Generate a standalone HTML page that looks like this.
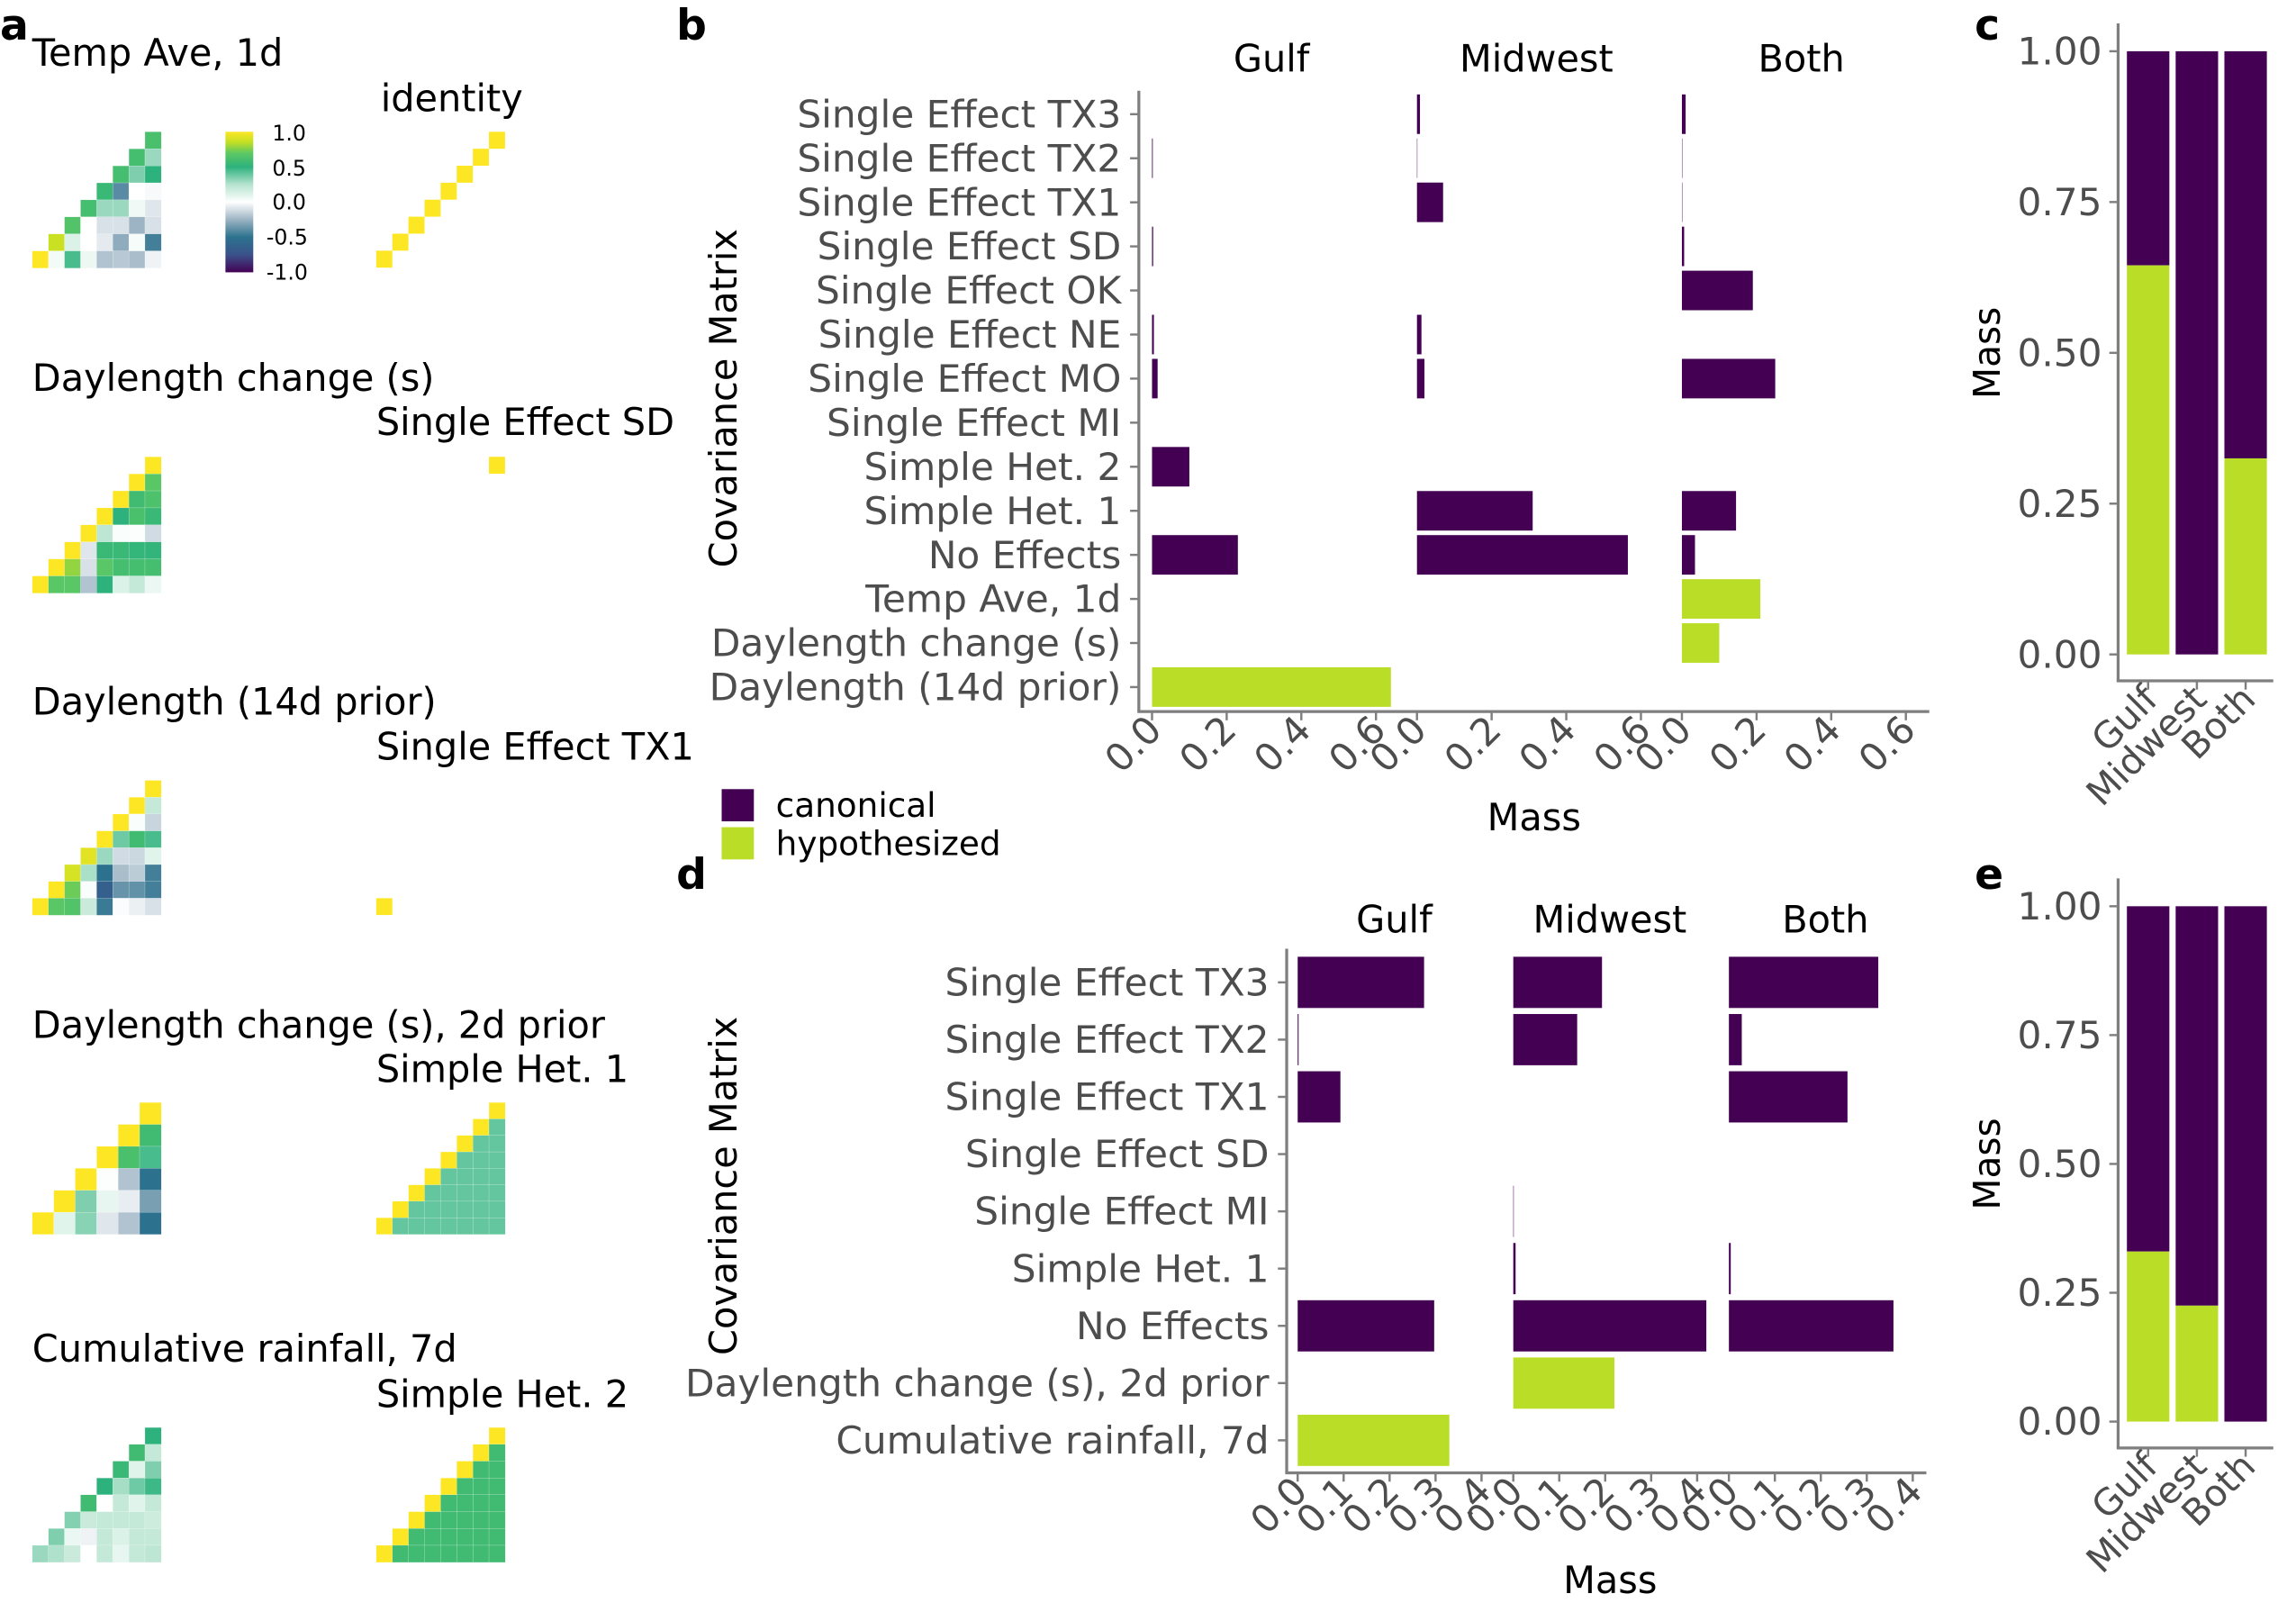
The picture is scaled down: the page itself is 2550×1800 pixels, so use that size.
<!DOCTYPE html>
<html><head><meta charset="utf-8"><style>
html,body{margin:0;padding:0;background:#fff;}
svg{display:block;font-family:"DejaVu Sans","Liberation Sans",sans-serif;}
</style></head><body>
<svg id="fig" xmlns="http://www.w3.org/2000/svg" width="2550" height="1800" viewBox="0 0 1568.5 1107.2">
<rect x="0" y="0" width="1568.5" height="1107.2" fill="#fff"/>
<g font-weight="bold" font-size="29" fill="#000">
<text x="0" y="27">a</text>
<text x="462" y="27">b</text>
<text x="1349" y="27">c</text>
<text x="462" y="607">d</text>
<text x="1349" y="607">e</text>
</g>
<g font-size="25.5" fill="#000">
<text x="22" y="45">Temp Ave, 1d</text>
<text x="260" y="76">identity</text>
<text x="22" y="267">Daylength change (s)</text>
<text x="257" y="297">Single Effect SD</text>
<text x="22" y="488">Daylength (14d prior)</text>
<text x="257" y="519">Single Effect TX1</text>
<text x="22" y="709">Daylength change (s), 2d prior</text>
<text x="257" y="739">Simple Het. 1</text>
<text x="22" y="930">Cumulative rainfall, 7d</text>
<text x="257" y="961">Simple Het. 2</text>
</g>
<defs>
<linearGradient id="cbar" x1="0" y1="1" x2="0" y2="0">
<stop offset="0" stop-color="#440154"/><stop offset="0.125" stop-color="#3b528b"/>
<stop offset="0.25" stop-color="#2c728e"/><stop offset="0.375" stop-color="#9db4c4"/>
<stop offset="0.5" stop-color="#ffffff"/><stop offset="0.625" stop-color="#b5e3cf"/>
<stop offset="0.75" stop-color="#2db27d"/><stop offset="0.85" stop-color="#5ec962"/>
<stop offset="0.925" stop-color="#c2df23"/><stop offset="1" stop-color="#fde725"/>
</linearGradient>
</defs>
<rect x="154" y="90" width="19" height="96" fill="url(#cbar)"/>
<g font-size="14.5" fill="#000">
<text x="186" y="96">1.0</text><text x="186" y="120">0.5</text><text x="186" y="143">0.0</text>
<text x="182" y="167">-0.5</text><text x="182" y="191">-1.0</text>
</g>
<g id="heat"></g>
<g id="pb"></g><g id="pd"></g><g id="pc"></g><g id="pe"></g>
<g>
<rect x="493" y="539" width="22" height="22" fill="#440154"/>
<rect x="493" y="565" width="22" height="22" fill="#bade28"/>
<text x="530" y="558" font-size="23">canonical</text>
<text x="530" y="584" font-size="23">hypothesized</text>
</g>
</svg>
<script>
// ---------- data: panel b ----------
const catsB = ["Single Effect TX3","Single Effect TX2","Single Effect TX1","Single Effect SD","Single Effect OK","Single Effect NE","Single Effect MO","Single Effect MI","Simple Het. 2","Simple Het. 1","No Effects","Temp Ave, 1d","Daylength change (s)","Daylength (14d prior)"];
const typeB = ["c","c","c","c","c","c","c","c","c","c","c","h","h","h"];
const gulfB = [0,0.002,0,0.003,0,0.005,0.015,0,0.10,0,0.23,0,0,0.64];
const midwestB = [0.008,0.001,0.07,0,0,0.012,0.02,0,0,0.31,0.565,0,0,0];
const bothB = [0.01,0.001,0.001,0.006,0.19,0,0.25,0,0,0.145,0.035,0.21,0.10,0];
const ticksB = [0,0.2,0.4,0.6];
const tickLabelsB = ["0.0","0.2","0.4","0.6"];
// ---------- data: panel d ----------
const catsD = ["Single Effect TX3","Single Effect TX2","Single Effect TX1","Single Effect SD","Single Effect MI","Simple Het. 1","No Effects","Daylength change (s), 2d prior","Cumulative rainfall, 7d"];
const typeD = ["c","c","c","c","c","c","c","h","h"];
const gulfD = [0.275,0.002,0.093,0,0,0,0.297,0,0.33];
const midwestD = [0.193,0.139,0,0,0.001,0.005,0.42,0.22,0];
const bothD = [0.325,0.028,0.258,0,0,0.004,0.358,0,0];
const ticksD = [0,0.1,0.2,0.3,0.4];
const tickLabelsD = ["0.0","0.1","0.2","0.3","0.4"];
const facets = ["Gulf","Midwest","Both"];
// ---------- data: panels c / e ----------
const hypC = [0.645,0,0.325];
const hypE = [0.33,0.225,0];
const ticksM = [0,0.25,0.5,0.75,1];
const tickLabelsM = ["0.00","0.25","0.50","0.75","1.00"];
// ---------- data: heatmaps (lower-right triangles, row-major, top row first) ----------
const hmTemp = [[0.62],[0.6,0.3],[0.6,0.35,0.5],[0.55,-0.4,0,-0.02],[0.6,0.3,0.3,0.05,-0.08],[0.65,0,-0.1,-0.1,-0.25,-0.1],[0.87,0.12,0,-0.07,-0.28,0.03,-0.45],[1,0.04,0.45,0.06,-0.2,-0.18,-0.22,-0.04]];
const hmDayChg = [[1],[1,0.68],[1,0.58,0.63],[1,0.5,0.62,0.55],[1,0.22,0.02,0.01,-0.12],[1,-0.08,0.55,0.55,0.53,0.52],[1,0.78,-0.1,0.68,0.6,0.6,0.6],[1,0.68,0.68,-0.2,0.5,0.12,0.2,0.07]];
const hmDay14 = [[1],[1,0.2],[1,0.02,-0.14],[1,0.38,0.58,0.45],[0.93,0.3,-0.12,-0.13,0.1],[0.9,0.27,-0.5,-0.22,-0.17,-0.45],[1,0.72,0.02,-0.65,-0.37,-0.38,-0.45],[1,0.68,0.65,0.18,-0.47,-0.01,-0.05,-0.1]];
const hmDayChg2 = [[1],[1,0.58],[1,0.62,0.45],[1,0.01,-0.2,-0.5],[1,0.35,0.08,-0.06,-0.33],[1,0.1,0.33,-0.08,-0.2,-0.5]];
const hmRain = [[0.5],[0.58,0.2],[0.55,0.1,0.35],[0.5,0.28,0.38,0.47],[0.58,0,0.2,0.1,0.2],[0.34,0.18,0.2,0.2,0.2,0.17],[0.35,0.07,-0.04,0.2,0.12,0.2,0.2],[0.3,0.26,0.18,0,0.2,0.08,0.2,0.22]];
const hetOne = 0.4;
const hetTwo = 0.58;

const NS="http://www.w3.org/2000/svg";
function mk(parent, tag, attrs, txt){const e=document.createElementNS(NS,tag);for(const k in attrs)e.setAttribute(k,attrs[k]);if(txt!==undefined)e.textContent=txt;parent.appendChild(e);return e;}
const PURPLE="#440154", LIME="#bade28", GREY="#7f7f7f", TXT="#4d4d4d";

const cStops=[[-1,[68,1,84]],[-0.75,[59,82,139]],[-0.5,[44,114,142]],[-0.25,[157,180,196]],[0,[255,255,255]],[0.25,[181,227,207]],[0.5,[45,178,125]],[0.7,[94,201,98]],[0.85,[194,223,35]],[1,[253,231,37]]];
function col(v){v=Math.max(-1,Math.min(1,v));for(let i=1;i<cStops.length;i++){if(v<=cStops[i][0]){const a=cStops[i-1],b=cStops[i];const t=(v-a[0])/(b[0]-a[0]);const c=a[1].map((x,j)=>Math.round(x+(b[1][j]-x)*t));return "rgb("+c.join(",")+")";}}return "rgb(253,231,37)";}

const heat=document.getElementById('heat');
function drawTri(rows, x0, y0, w, h, name){
  const g=mk(heat,'g',{});
  
  
  const n=rows.length, cw=w/n, ch=h/n;
  rows.forEach((r,i)=>{r.forEach((v,k)=>{const c=n-1-i+k;
    const e=mk(g,'rect',{x:x0+c*cw,y:y0+i*ch,width:cw+0.2,height:ch+0.2,fill:col(v),stroke:"#fff","stroke-width":0.15});
    
    
  });});
}
function structRows(n, off){const r=[];for(let i=0;i<n;i++){const row=[];for(let k=0;k<=i;k++){row.push(k===0?1:off);}r.push(row);}return r;}
drawTri(hmTemp,22,90,88,93,'heatmap-temp-ave');
drawTri(hmDayChg,22,312,88,93,'heatmap-daylength-change');
drawTri(hmDay14,22,533,88,92,'heatmap-daylength-14d');
drawTri(hmDayChg2,22,753,88,90,'heatmap-daylength-change-2d');
drawTri(hmRain,22,975,88,92,'heatmap-cumulative-rainfall');
drawTri(structRows(8,hetOne),257,753,88,90,'heatmap-simple-het-1');
drawTri(structRows(8,hetTwo),257,975,88,92,'heatmap-simple-het-2');
(function(){
  const g=mk(heat,'g',{});
  
  
  const cw=11, ch=11.6;
  for(let i=0;i<8;i++){const e=mk(g,'rect',{x:257+(7-i)*cw,y:90+i*ch,width:cw,height:ch,fill:"#fde725"});
    
    }
  const s=mk(heat,'rect',{x:257+7*cw,y:312,width:cw,height:ch,fill:"#fde725"});
  
  
  const t=mk(heat,'rect',{x:257,y:533+7*11.5,width:cw,height:11.5,fill:"#fde725"});
  
  
})();

function facetChart(gid, cats, types, series, ticks, tickLabels, L){
  const g=document.getElementById(gid);
  
  
  const yc=i=>L.y0+i*L.step;
  const xs=(f,v)=>L.fx0+f*L.fgap+v*L.scale;
  series.forEach((vals,f)=>{vals.forEach((v,i)=>{if(v<=0)return;
    const b=mk(g,'rect',{x:xs(f,0),y:yc(i)-L.bh/2,width:xs(f,v)-xs(f,0),height:L.bh,fill:types[i]==="h"?LIME:PURPLE});
    
    
  });});
  const ya=mk(g,'line',{x1:L.ax,y1:L.top,x2:L.ax,y2:L.bot,stroke:GREY,"stroke-width":2});
  
  
  const xa=mk(g,'line',{x1:L.ax-1,y1:L.bot,x2:L.right,y2:L.bot,stroke:GREY,"stroke-width":2});
  
  
  cats.forEach((c,i)=>{
    mk(g,'line',{x1:L.ax-6,y1:yc(i),x2:L.ax,y2:yc(i),stroke:GREY,"stroke-width":1.5});
    const t=mk(g,'text',{x:L.ax-12,y:yc(i)+9,"text-anchor":"end","font-size":L.fs,fill:TXT},c);
    
    
  });
  facets.forEach((fn,f)=>{
    const s=mk(g,'text',{x:xs(f,L.stripMid),y:L.stripY,"text-anchor":"middle","font-size":L.fs-0.5,fill:"#000"},fn);
    
    
    ticks.forEach((tv,k)=>{const x=xs(f,tv);
      mk(g,'line',{x1:x,y1:L.bot,x2:x,y2:L.bot+6,stroke:GREY,"stroke-width":1.5});
      const t=mk(g,'text',{x:0,y:0,"text-anchor":"end","font-size":L.fs,fill:TXT,transform:"translate("+(x+8)+","+(L.bot+14)+") rotate(-45)"},tickLabels[k]);
      
      
    });
  });
  const xt=mk(g,'text',{x:L.xtX,y:L.xtY,"text-anchor":"middle","font-size":L.fs-0.5,fill:"#000"},"Mass");
  
  
  const yt=mk(g,'text',{x:0,y:0,"text-anchor":"middle","font-size":L.fs-0.5,fill:"#000",transform:"translate(503,"+L.ytY+") rotate(-90)"},"Covariance Matrix");
  
  
}
facetChart('pb',catsB,typeB,[gulfB,midwestB,bothB],ticksB,tickLabelsB,
  {name:'panel-b-chart',y0:78,step:30.1,bh:27,fx0:787,fgap:181,scale:255,ax:778,top:62,bot:486,right:1318,fs:26,stripMid:0.32,stripY:49,xtX:1048,xtY:567,ytY:272});
facetChart('pd',catsD,typeD,[gulfD,midwestD,bothD],ticksD,tickLabelsD,
  {name:'panel-d-chart',y0:671,step:39.1,bh:35,fx0:886.5,fgap:147.3,scale:314,ax:879,top:648,bot:1006,right:1316,fs:26,stripMid:0.21,stripY:637,xtX:1100,xtY:1088,ytY:810});

function massChart(gid, hyp, L){
  const g=document.getElementById(gid);
  
  
  const ys=v=>L.y0-v*(L.y0-L.y1);
  facets.forEach((fn,i)=>{const cx=1467.5+i*33.3;
    const p=mk(g,'rect',{x:cx-14.5,y:ys(1),width:29,height:ys(hyp[i])-ys(1),fill:PURPLE});
    
    
    if(hyp[i]>0){const h=mk(g,'rect',{x:cx-14.5,y:ys(hyp[i]),width:29,height:ys(0)-ys(hyp[i]),fill:LIME});
      
      }
    mk(g,'line',{x1:cx,y1:L.bot,x2:cx,y2:L.bot+6,stroke:GREY,"stroke-width":1.5});
    const t=mk(g,'text',{x:0,y:0,"text-anchor":"end","font-size":25,fill:TXT,transform:"translate("+(cx+8)+","+(L.bot+14)+") rotate(-45)"},fn);
    
    
  });
  const ya=mk(g,'line',{x1:1447,y1:L.top,x2:1447,y2:L.bot,stroke:GREY,"stroke-width":2});
  
  
  const xa=mk(g,'line',{x1:1446,y1:L.bot,x2:1553,y2:L.bot,stroke:GREY,"stroke-width":2});
  
  
  ticksM.forEach((tv,k)=>{
    mk(g,'line',{x1:1441,y1:ys(tv),x2:1447,y2:ys(tv),stroke:GREY,"stroke-width":1.5});
    const t=mk(g,'text',{x:1436,y:ys(tv)+9,"text-anchor":"end","font-size":26,fill:TXT},tickLabelsM[k]);
    
    
  });
  const yt=mk(g,'text',{x:0,y:0,"text-anchor":"middle","font-size":25,fill:"#000",transform:"translate(1366,"+L.ytY+") rotate(-90)"},"Mass");
  
  
}
massChart('pc',hypC,{name:'panel-c-chart',y0:447,y1:35,top:16,bot:465,ytY:241});
massChart('pe',hypE,{name:'panel-e-chart',y0:971,y1:619,top:600,bot:989,ytY:795});
</script>
</body></html>
